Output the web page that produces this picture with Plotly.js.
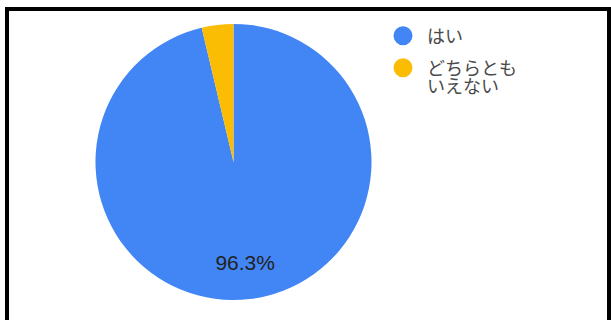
<!DOCTYPE html>
<html>
<head>
<meta charset="utf-8">
<script src="https://cdn.plot.ly/plotly-3.0.1.min.js"></script>
<style>
html,body{margin:0;padding:0;background:#fff;}
#chart{width:611px;height:320px;}
</style>
</head>
<body>
<div id="chart"></div>
<script>
const categories = ['はい', 'どちらともいえない'];
const values = [96.3, 3.7];
const sliceText = ['96.3%', ''];
const colors = ['#4285F4', '#FBBC04'];
// legend text lines as drawn in the reference (second label wraps)
const legendLines = [['はい'], ['どちらとも', 'いえない']];

const W = 611, H = 320;
const cx = 233.5, cy = 162, r = 138;
const dom = {x: [(cx - r) / W, (cx + r) / W], y: [(H - cy - r) / H, (H - cy + r) / H]};

const pie = {
  type: 'pie',
  values: values,
  labels: categories,
  textinfo: 'none',
  sort: false,
  direction: 'clockwise',
  rotation: 0,
  marker: {colors: colors, line: {width: 0}},
  showlegend: false,
  hoverinfo: 'none',
  domain: dom
};

// transparent ring carrying the percentage label, placed at ~0.73 r like the reference
const labelRing = {
  type: 'pie',
  values: values,
  labels: categories,
  text: sliceText,
  textinfo: 'text',
  textposition: 'inside',
  insidetextorientation: 'horizontal',
  insidetextfont: {family: 'Liberation Sans, Arial, sans-serif', size: 21, color: '#222'},
  hole: 0.46,
  sort: false,
  direction: 'clockwise',
  rotation: 0,
  marker: {colors: ['rgba(0,0,0,0)', 'rgba(0,0,0,0)'], line: {width: 0}},
  showlegend: false,
  hoverinfo: 'none',
  domain: dom
};

const legendIds = ['legend', 'legend2', 'legend3'];
const legendTraces = [];
let k = 0;
legendLines.forEach((lines, i) => {
  lines.forEach((ln, j) => {
    const c = j === 0 ? colors[i] : 'rgba(0,0,0,0)';
    legendTraces.push({
      type: 'scatter',
      mode: 'markers',
      x: [null], y: [null],
      name: ln,
      legend: legendIds[k],
      marker: {color: c, size: 16, symbol: 'circle', line: {color: c, width: 3}},
      showlegend: true,
      hoverinfo: 'none'
    });
    k++;
  });
});

const legendTops = [17.5, 49.5, 67.5];
const legBase = (top) => ({
  x: 379 / W, y: (H - top) / H,
  xanchor: 'left', yanchor: 'top',
  font: {family: 'Noto Sans CJK JP, sans-serif', size: 18, color: '#4a4a4a'},
  bgcolor: 'rgba(0,0,0,0)',
  itemwidth: 38,
  itemclick: false
});

const layout = {
  width: W, height: H,
  margin: {l: 0, r: 0, t: 0, b: 0},
  paper_bgcolor: '#fff',
  plot_bgcolor: '#fff',
  xaxis: {visible: false, range: [0, 1]},
  yaxis: {visible: false, range: [0, 1]},
  showlegend: true,
  legend: legBase(legendTops[0]),
  legend2: legBase(legendTops[1]),
  legend3: legBase(legendTops[2]),
  shapes: [
    {type: 'rect', xref: 'paper', yref: 'paper', x0: 5 / W, x1: 9 / W, y0: 0, y1: (H - 7) / H, fillcolor: '#000', line: {width: 0}},
    {type: 'rect', xref: 'paper', yref: 'paper', x0: 5 / W, x1: 1, y0: (H - 11) / H, y1: (H - 7) / H, fillcolor: '#000', line: {width: 0}},
    {type: 'rect', xref: 'paper', yref: 'paper', x0: 607 / W, x1: 1, y0: 0, y1: (H - 7) / H, fillcolor: '#000', line: {width: 0}}
  ]
};

Plotly.newPlot('chart', [pie, labelRing].concat(legendTraces), layout, {displayModeBar: false, staticPlot: true});
</script>
</body>
</html>
